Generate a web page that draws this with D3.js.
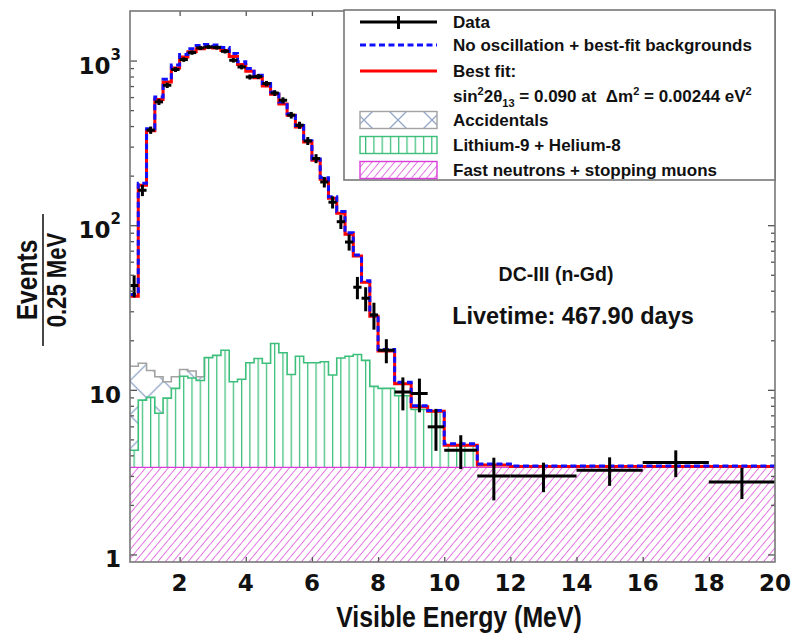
<!DOCTYPE html>
<html><head><meta charset="utf-8">
<script src="https://cdn.jsdelivr.net/npm/d3@7"></script>
<style>body{margin:0;background:#fff}svg{display:block}text{white-space:pre}</style>
</head><body>
<svg id="c" width="795" height="636"></svg>
<script>
// ---------- data ----------
const binEdges = [0.5,0.75,1,1.25,1.5,1.75,2,2.25,2.5,2.75,3,3.25,3.5,3.75,4,4.25,4.5,4.75,5,5.25,5.5,5.75,6,6.25,6.5,6.75,7,7.25,7.5,7.75,8,8.5,9,9.5,10,11,12,14,16,18,20];
const dataValues = [43,163,378,561,708,882,1014,1118,1193,1209,1200,1138,1004,914,795,800,725,635,574,466,405,325,254,183,138,105,79,42,36,28.5,17.4,9.7,9.5,5.96,4.3,3.0,3.0,3.25,3.62,2.76];
const dataErrors = [6.6,12.8,19.4,23.7,26.6,29.7,31.8,33.4,34.5,34.8,34.6,33.7,31.7,30.2,28.2,28.3,26.9,25.2,24.0,21.6,20.1,18.0,15.9,13.5,11.7,10.2,8.9,6.5,6.0,5.3,2.9,2.2,2.2,1.7,1.0,0.87,0.61,0.64,0.67,0.59];
const bestFit = [37,175,375,580,740,900,1050,1130,1180,1200,1190,1150,1060,945,860,785,700,625,545,465,395,320,248,190,146,118,88,65,45,28,17.2,10.9,7.9,7.4,4.6,3.5,3.42,3.42,3.42,3.42];
const noOscillation = [38,180,385,600,770,940,1090,1180,1235,1250,1245,1200,1105,985,895,815,725,645,560,475,403,326,252,194,149,121,90,66,46,28.5,17.6,11.1,8.0,7.5,4.7,3.55,3.45,3.45,3.45,3.45];
const fastNeutrons = [3.38,3.38,3.38,3.38,3.38,3.38,3.38,3.38,3.38,3.38,3.38,3.38,3.38,3.38,3.38,3.38,3.38,3.38,3.38,3.38,3.38,3.38,3.38,3.38,3.38,3.38,3.38,3.38,3.38,3.38,3.38,3.38,3.38,3.38,3.38,3.38,3.38,3.38,3.38,3.38];
const lithiumHelium = [0.92,5.28,5.62,3.82,5.52,6.82,8.72,8.42,8.02,12.32,12.82,14.02,7.82,8.22,11.22,12.12,11.12,15.72,13.42,9.02,12.62,11.22,11.22,11.42,8.92,12.22,12.62,13.02,11.72,7.12,6.82,5.82,4.22,4.02,1.22,0,0,0,0,0];
const accidentals = [9.6,5.84,4.1,4.8,2.3,1.8,1.2,1.2,0.6,0,0,0,0,0,0,0,0,0,0,0,0,0,0,0,0,0,0,0,0,0,0,0,0,0,0,0,0,0,0,0];
const xTicks = [2,4,6,8,10,12,14,16,18,20];
const yMajor = [1,10,100,1000];
const yMinor = [2,3,4,5,6,7,8,9,20,30,40,50,60,70,80,90,200,300,400,500,600,700,800,900];
const legendLabels = ["Data","No oscillation + best-fit backgrounds","Best fit:","","Accidentals","Lithium-9 + Helium-8","Fast neutrons + stopping muons"];

// ---------- setup ----------
const svg = d3.select("#c");
const L = 130, R = 775, T = 11, B = 562;
const x = d3.scaleLinear().domain([0.5, 20]).range([L, R]);
const y = d3.scaleLog().domain([0.9, 2000]).range([B, T]);
const SANS = "'Liberation Sans', Arial, Helvetica, sans-serif";
const PINK = "#d93cd9", GREEN = "#3cbf7a", ACCL = "#93a6c8", ACCO = "#a2a2a2";

const defs = svg.append("defs");
const pp = defs.append("pattern").attr("id","hFN").attr("patternUnits","userSpaceOnUse")
  .attr("width",5.8).attr("height",12).attr("patternTransform","rotate(40)");
pp.append("line").attr("x1",0).attr("y1",-2).attr("x2",0).attr("y2",14).attr("stroke",PINK).attr("stroke-width",1.4);
const gp = defs.append("pattern").attr("id","hLi").attr("patternUnits","userSpaceOnUse")
  .attr("x",133.5).attr("y",0).attr("width",x(0.75)-x(0.5)).attr("height",10);
gp.append("line").attr("x1",0.6).attr("y1",0).attr("x2",0.6).attr("y2",10).attr("stroke",GREEN).attr("stroke-width",1.3);
function accPattern(id, px, py){
  const ap = defs.append("pattern").attr("id",id).attr("patternUnits","userSpaceOnUse")
    .attr("x",px).attr("y",py).attr("width",34).attr("height",34);
  ap.append("path").attr("d","M0,0L34,34M0,34L34,0").attr("stroke",ACCL).attr("stroke-width",1.3).attr("fill","none");
}
accPattern("hAcc",129.7,381);
accPattern("hAccL",381,103);

const clip = defs.append("clipPath").attr("id","plotclip");
clip.append("rect").attr("x",L).attr("y",T).attr("width",R-L).attr("height",B-T);

function stepLine(edges, vals){
  let d = `M${x(edges[0])},${y(vals[0])}`;
  for(let i=0;i<vals.length;i++){
    if(i>0) d += `V${y(vals[i])}`;
    d += `H${x(edges[i+1])}`;
  }
  return d;
}
function band(edges, lo, hi){
  let d = `M${x(edges[0])},${y(lo[0])}V${y(hi[0])}`;
  for(let i=0;i<hi.length;i++){
    if(i>0) d += `V${y(hi[i])}`;
    d += `H${x(edges[i+1])}`;
  }
  for(let i=lo.length-1;i>=0;i--){
    d += `V${y(lo[i])}H${x(edges[i])}`;
  }
  return d+"Z";
}

const n = dataValues.length;
const yMinVal = y.domain()[0];
const base = binEdges.slice(0,n).map(()=>yMinVal);
const fnTop = fastNeutrons.slice();
const liTop = fnTop.map((v,i)=>v+lithiumHelium[i]);
const accTop = liTop.map((v,i)=>v+accidentals[i]);

const plot = svg.append("g").attr("clip-path","url(#plotclip)");

const accEnd = accidentals.map((v,i)=>i).filter(i=>accidentals[i]>0).pop()+1;
plot.append("path").attr("d",band(binEdges.slice(0,accEnd+1), liTop.slice(0,accEnd), accTop.slice(0,accEnd)))
  .attr("fill","url(#hAcc)").attr("stroke","none");
plot.append("path").attr("d",stepLine(binEdges.slice(0,accEnd+1), accTop.slice(0,accEnd)) + `V${y(liTop[accEnd])}`)
  .attr("fill","none").attr("stroke",ACCO).attr("stroke-width",1.6);

const liEnd = lithiumHelium.map((v,i)=>i).filter(i=>lithiumHelium[i]>0).pop()+1;
plot.append("path").attr("d",band(binEdges.slice(0,liEnd+1), fnTop.slice(0,liEnd), liTop.slice(0,liEnd)))
  .attr("fill","url(#hLi)").attr("stroke","none");
plot.append("path").attr("d",stepLine(binEdges.slice(0,liEnd+1), liTop.slice(0,liEnd)) + `V${y(fnTop[liEnd])}`)
  .attr("fill","none").attr("stroke",GREEN).attr("stroke-width",1.6);

plot.append("path").attr("d",band(binEdges, base, fnTop)).attr("fill","url(#hFN)").attr("stroke","none");
plot.append("path").attr("d",stepLine(binEdges, fnTop)).attr("fill","none").attr("stroke",PINK).attr("stroke-width",1.4);

plot.append("path").attr("d",stepLine(binEdges, bestFit)).attr("fill","none").attr("stroke","#ff0000").attr("stroke-width",3);
plot.append("path").attr("d",stepLine(binEdges, noOscillation)).attr("fill","none").attr("stroke","#1010ff").attr("stroke-width",3).attr("stroke-dasharray","6,3.5");

const dg = plot.append("g").attr("stroke","#000").attr("stroke-width",3);
dataValues.forEach((v,i)=>{
  const xc = x((binEdges[i]+binEdges[i+1])/2);
  dg.append("line").attr("x1",x(binEdges[i])).attr("x2",x(binEdges[i+1])).attr("y1",y(v)).attr("y2",y(v));
  dg.append("line").attr("x1",xc).attr("x2",xc).attr("y1",y(v-dataErrors[i])).attr("y2",y(v+dataErrors[i]));
});

const axCol = "#555";
function styleAxis(g){ g.select(".domain").remove(); g.selectAll("line").attr("stroke",axCol).attr("stroke-width",1.3); g.selectAll("text").remove(); }
svg.append("g").attr("transform",`translate(0,${B})`).call(d3.axisBottom(x).tickValues(xTicks.filter(t=>t<20)).tickSize(-5)).call(styleAxis);
svg.append("g").attr("transform",`translate(0,${T})`).call(d3.axisTop(x).tickValues(xTicks.filter(t=>t<20)).tickSize(-5)).call(styleAxis);
svg.append("g").attr("transform",`translate(${L},0)`).call(d3.axisLeft(y).tickValues(yMajor).tickSize(-7)).call(styleAxis);
svg.append("g").attr("transform",`translate(${L},0)`).call(d3.axisLeft(y).tickValues(yMinor).tickSize(-4)).call(styleAxis);
svg.append("g").attr("transform",`translate(${R},0)`).call(d3.axisRight(y).tickValues(yMajor).tickSize(-7)).call(styleAxis);
svg.append("g").attr("transform",`translate(${R},0)`).call(d3.axisRight(y).tickValues(yMinor).tickSize(-4)).call(styleAxis);
svg.append("rect").attr("x",L).attr("y",T).attr("width",R-L).attr("height",B-T).attr("fill","none").attr("stroke","#777").attr("stroke-width",1.6);

const TICKF = "'DejaVu Sans', Verdana, sans-serif";
svg.append("g").selectAll("text").data(xTicks).join("text")
  .attr("x",d=>x(d)).attr("y",591).attr("text-anchor","middle")
  .attr("font-family",TICKF).attr("font-weight","bold").attr("font-size",23).attr("fill","#111").text(d=>d);
const yl = svg.append("g").selectAll("text").data(yMajor).join("text")
  .attr("x",121).attr("y",d=>y(d)+13).attr("text-anchor","end")
  .attr("font-family",TICKF).attr("font-weight","bold").attr("font-size",23).attr("fill","#111");
yl.each(function(d){
  const t = d3.select(this);
  const e = Math.round(Math.log10(d));
  if(e<=1){ t.text(d); }
  else { t.append("tspan").text("10"); t.append("tspan").attr("dy",-14).attr("font-size",15).text(e); }
});

svg.append("text").attr("transform","translate(459,627) scale(0.83,1)").attr("text-anchor","middle")
  .attr("font-family",SANS).attr("font-weight","bold").attr("font-size",30).attr("fill","#111").text("Visible Energy (MeV)");
const yt = svg.append("g").attr("transform","translate(43,280) rotate(-90)");
yt.append("text").attr("transform","translate(0,-6) scale(0.82,1)").attr("text-anchor","middle")
  .attr("font-family",SANS).attr("font-weight","bold").attr("font-size",30).attr("fill","#111").text("Events");
yt.append("line").attr("x1",-66).attr("x2",66).attr("y1",0).attr("y2",0).attr("stroke","#333").attr("stroke-width",1.8);
yt.append("text").attr("transform","translate(0,23) scale(0.82,1)").attr("text-anchor","middle")
  .attr("font-family",SANS).attr("font-weight","bold").attr("font-size",27).attr("fill","#111").text("0.25 MeV");

svg.append("text").attr("x",556).attr("y",281).attr("text-anchor","middle").attr("font-family",SANS)
  .attr("font-weight","bold").attr("font-size",19.5).attr("fill","#111").text("DC-III (n-Gd)");
svg.append("text").attr("x",573).attr("y",324).attr("text-anchor","middle").attr("font-family",SANS)
  .attr("font-weight","bold").attr("font-size",23.5).attr("fill","#111").text("Livetime: 467.90 days");

const lg = svg.append("g");
lg.append("rect").attr("x",344).attr("y",10).attr("width",R-344).attr("height",170).attr("fill","#fff").attr("stroke","#777").attr("stroke-width",1.6);
const sx0 = 360, sx1 = 437, tx = 453;
const rowY = [22,45,71,97,120,145,170];
lg.append("line").attr("x1",sx0).attr("x2",sx1).attr("y1",rowY[0]).attr("y2",rowY[0]).attr("stroke","#000").attr("stroke-width",2.8);
lg.append("line").attr("x1",(sx0+sx1)/2).attr("x2",(sx0+sx1)/2).attr("y1",rowY[0]-6).attr("y2",rowY[0]+7).attr("stroke","#000").attr("stroke-width",3);
lg.append("line").attr("x1",sx0).attr("x2",sx1).attr("y1",rowY[1]).attr("y2",rowY[1]).attr("stroke","#1010ff").attr("stroke-width",3).attr("stroke-dasharray","6,3.5");
lg.append("line").attr("x1",sx0).attr("x2",sx1).attr("y1",rowY[2]).attr("y2",rowY[2]).attr("stroke","#ff0000").attr("stroke-width",3);
[["url(#hAccL)",ACCO],["url(#hLi)",GREEN],["url(#hFN)",PINK]].forEach((s,k)=>{
  lg.append("rect").attr("x",sx0).attr("y",rowY[4+k]-8.5).attr("width",sx1-sx0).attr("height",17)
    .attr("fill",s[0]).attr("stroke",s[1]).attr("stroke-width",1.4);
});
legendLabels.forEach((t,i)=>{
  if(!t) return;
  lg.append("text").attr("x",tx).attr("y",rowY[i]+6).attr("font-family",SANS).attr("font-weight","bold")
    .attr("font-size",17).attr("fill","#111").text(t);
});
const fm = lg.append("text").attr("x",tx).attr("y",rowY[3]+5).attr("font-family",SANS).attr("font-weight","bold")
  .attr("font-size",17).attr("fill","#111");
fm.append("tspan").text("sin");
fm.append("tspan").attr("dy",-7).attr("font-size",11).text("2");
fm.append("tspan").attr("dy",7).text("2θ");
fm.append("tspan").attr("dy",5).attr("font-size",11).text("13");
fm.append("tspan").attr("dy",-5).text(" = 0.090 at  Δm");
fm.append("tspan").attr("dy",-7).attr("font-size",11).text("2");
fm.append("tspan").attr("dy",7).text(" = 0.00244 eV");
fm.append("tspan").attr("dy",-7).attr("font-size",11).text("2");
</script>
</body></html>
